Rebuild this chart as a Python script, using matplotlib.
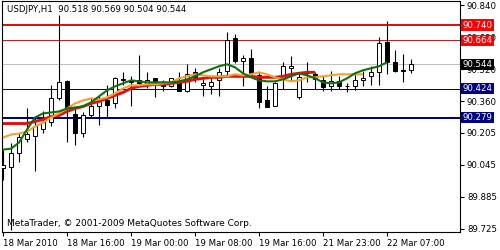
import numpy as np
import matplotlib
matplotlib.use("Agg")
import matplotlib.pyplot as plt

SYMBOL = "USDJPY,H1"

opens = [90.030, 90.035, 90.105, 90.175, 90.190, 90.225, 90.260, 90.375, 90.460, 90.295,
         90.205, 90.290, 90.335, 90.365, 90.350, 90.465, 90.465, 90.465, 90.440, 90.475,
         90.455, 90.435, 90.455, 90.410, 90.505, 90.440, 90.435, 90.465, 90.510, 90.675,
         90.560, 90.575, 90.490, 90.365, 90.335, 90.470, 90.525, 90.380, 90.503, 90.495,
         90.465, 90.435, 90.460, 90.435, 90.435, 90.465, 90.485, 90.505, 90.655, 90.555,
         90.515, 90.518]
highs = [90.120, 90.155, 90.205, 90.325, 90.285, 90.310, 90.440, 90.790, 90.465, 90.320,
         90.305, 90.375, 90.385, 90.440, 90.480, 90.505, 90.485, 90.590, 90.505, 90.475,
         90.465, 90.475, 90.505, 90.545, 90.525, 90.470, 90.485, 90.525, 90.705, 90.695,
         90.590, 90.620, 90.505, 90.435, 90.455, 90.555, 90.585, 90.505, 90.555, 90.505,
         90.485, 90.510, 90.485, 90.450, 90.495, 90.510, 90.535, 90.680, 90.760, 90.615,
         90.595, 90.569]
lows = [89.970, 89.720, 90.060, 90.160, 90.015, 90.205, 90.240, 90.365, 90.160, 90.145,
        90.185, 90.285, 90.245, 90.285, 90.325, 90.440, 90.335, 90.435, 90.425, 90.380,
        90.410, 90.430, 90.410, 90.405, 90.455, 90.385, 90.395, 90.385, 90.490, 90.550,
        90.435, 90.485, 90.325, 90.330, 90.335, 90.420, 90.460, 90.370, 90.455, 90.420,
        90.410, 90.410, 90.420, 90.405, 90.415, 90.435, 90.440, 90.440, 90.495, 90.505,
        90.455, 90.504]
closes = [90.045, 90.105, 90.185, 90.200, 90.240, 90.260, 90.375, 90.455, 90.325, 90.205,
          90.290, 90.335, 90.360, 90.340, 90.475, 90.470, 90.455, 90.450, 90.465, 90.455,
          90.435, 90.475, 90.410, 90.495, 90.470, 90.450, 90.455, 90.505, 90.665, 90.560,
          90.575, 90.500, 90.355, 90.330, 90.450, 90.535, 90.535, 90.480, 90.503, 90.470,
          90.430, 90.460, 90.435, 90.435, 90.465, 90.475, 90.505, 90.650, 90.555, 90.510,
          90.510, 90.544]

ma_red = [90.250, 90.250, 90.250, 90.250, 90.260, 90.270, 90.285, 90.290, 90.310, 90.325,
          90.335, 90.350, 90.360, 90.375, 90.390, 90.405, 90.425, 90.435, 90.440, 90.445,
          90.445, 90.450, 90.455, 90.460, 90.470, 90.475, 90.480, 90.480, 90.485, 90.485,
          90.485, 90.485, 90.480, 90.480, 90.480, 90.485, 90.495, 90.500, 90.505, 90.505]
ma_orange = [90.180, 90.195, 90.200, 90.210, 90.235, 90.255, 90.280, 90.300, 90.325, 90.350,
             90.365, 90.375, 90.370, 90.380, 90.400, 90.425, 90.440, 90.440, 90.445, 90.445,
             90.450, 90.455, 90.475, 90.485, 90.495, 90.490, 90.485, 90.485, 90.485, 90.495,
             90.490, 90.495, 90.505, 90.495, 90.480, 90.470, 90.460, 90.465, 90.480, 90.480,
             90.485, 90.490, 90.495, 90.495, 90.495, 90.495]
ma_green = [90.120, 90.125, 90.155, 90.220, 90.280, 90.300, 90.305, 90.310, 90.325, 90.330,
            90.335, 90.355, 90.385, 90.415, 90.435, 90.450, 90.465, 90.460, 90.455, 90.455,
            90.455, 90.455, 90.460, 90.470, 90.485, 90.505, 90.520, 90.535, 90.545, 90.530,
            90.500, 90.480, 90.465, 90.460, 90.460, 90.470, 90.485, 90.500, 90.490, 90.475,
            90.455, 90.450, 90.455, 90.475, 90.500, 90.515, 90.525, 90.535, 90.555]

# horizontal price levels: (price, line colour, line width, label background)
levels = [
    (90.740, "#e01010", 2.0, "#ff0000"),
    (90.664, "#c02020", 1.0, "#ff0000"),
    (90.544, "#c0c0c0", 1.0, "#000000"),
    (90.424, "#000080", 1.0, "#000080"),
    (90.279, "#000080", 2.0, "#000080"),
]

y_ticks = [90.840, 90.680, 90.520, 90.360, 90.205, 90.045, 89.885, 89.725]
x_tick_pos = [0, 8, 16, 24, 32, 40, 48]
x_tick_labels = ["18 Mar 2010", "18 Mar 16:00", "19 Mar 00:00", "19 Mar 08:00",
                 "19 Mar 16:00", "21 Mar 23:00", "22 Mar 07:00"]

FS = 6.2
plt.rcParams["font.family"] = "DejaVu Sans"

fig = plt.figure(figsize=(5, 2.5), dpi=100)
ax = fig.add_axes([0.004, 0.072, 0.916, 0.924])

o = np.array(opens)
h = np.array(highs)
l = np.array(lows)
c = np.array(closes)
idx = np.arange(len(o))

for price, col, lw, bg in levels:
    ax.axhline(price, color=col, lw=lw * 0.72, zorder=1)

ax.vlines(idx, l, h, color="black", lw=0.8, zorder=2)
bull = c >= o
ax.bar(idx[bull], (c - o)[bull], bottom=o[bull], width=0.6,
       facecolor="white", edgecolor="black", lw=0.7, zorder=3)
ax.bar(idx[~bull], (o - c)[~bull], bottom=c[~bull], width=0.6,
       facecolor="black", edgecolor="black", lw=0.7, zorder=3)

ax.plot(np.arange(len(ma_red)), ma_red, color="#e01010", lw=2.1, zorder=4,
        solid_capstyle="butt")
ax.plot(np.arange(len(ma_orange)), ma_orange, color="#f5a030", lw=1.5, zorder=5,
        solid_capstyle="butt")
ax.plot(np.arange(len(ma_green)), ma_green, color="#107010", lw=1.5, zorder=6,
        solid_capstyle="butt")

ax.set_xlim(-0.125, 57.125)
ax.set_ylim(89.710, 90.860)

ax.yaxis.tick_right()
ax.set_yticks(y_ticks)
ax.set_yticklabels([f"{v:.3f}" for v in y_ticks])
ax.tick_params(axis="y", direction="out", length=3, width=0.8, pad=2, labelsize=FS)
ax.set_xticks(x_tick_pos)
ax.set_xticklabels(x_tick_labels, ha="left")
ax.tick_params(axis="x", direction="out", length=3, width=0.8, pad=2, labelsize=FS)
for sp in ax.spines.values():
    sp.set_linewidth(0.8)

for price, col, lw, bg in levels:
    ax.text(1.006, price, f"{price:.3f}", transform=ax.get_yaxis_transform(),
            ha="left", va="center", fontsize=FS, color="white", clip_on=False,
            bbox=dict(boxstyle="square,pad=0.15", fc=bg, ec="none"), zorder=10)

title = f"{SYMBOL}  {opens[-1]:.3f} {highs[-1]:.3f} {lows[-1]:.3f} {closes[-1]:.3f}"
ax.text(0.011, 0.965, title, transform=ax.transAxes, ha="left", va="center",
        fontsize=FS, color="black")
ax.text(0.011, 0.035, "MetaTrader, \u00a9 2001-2009 MetaQuotes Software Corp.",
        transform=ax.transAxes, ha="left", va="center", fontsize=6.5, color="black")

fig.savefig("out.png", dpi=100)
plt.close(fig)
